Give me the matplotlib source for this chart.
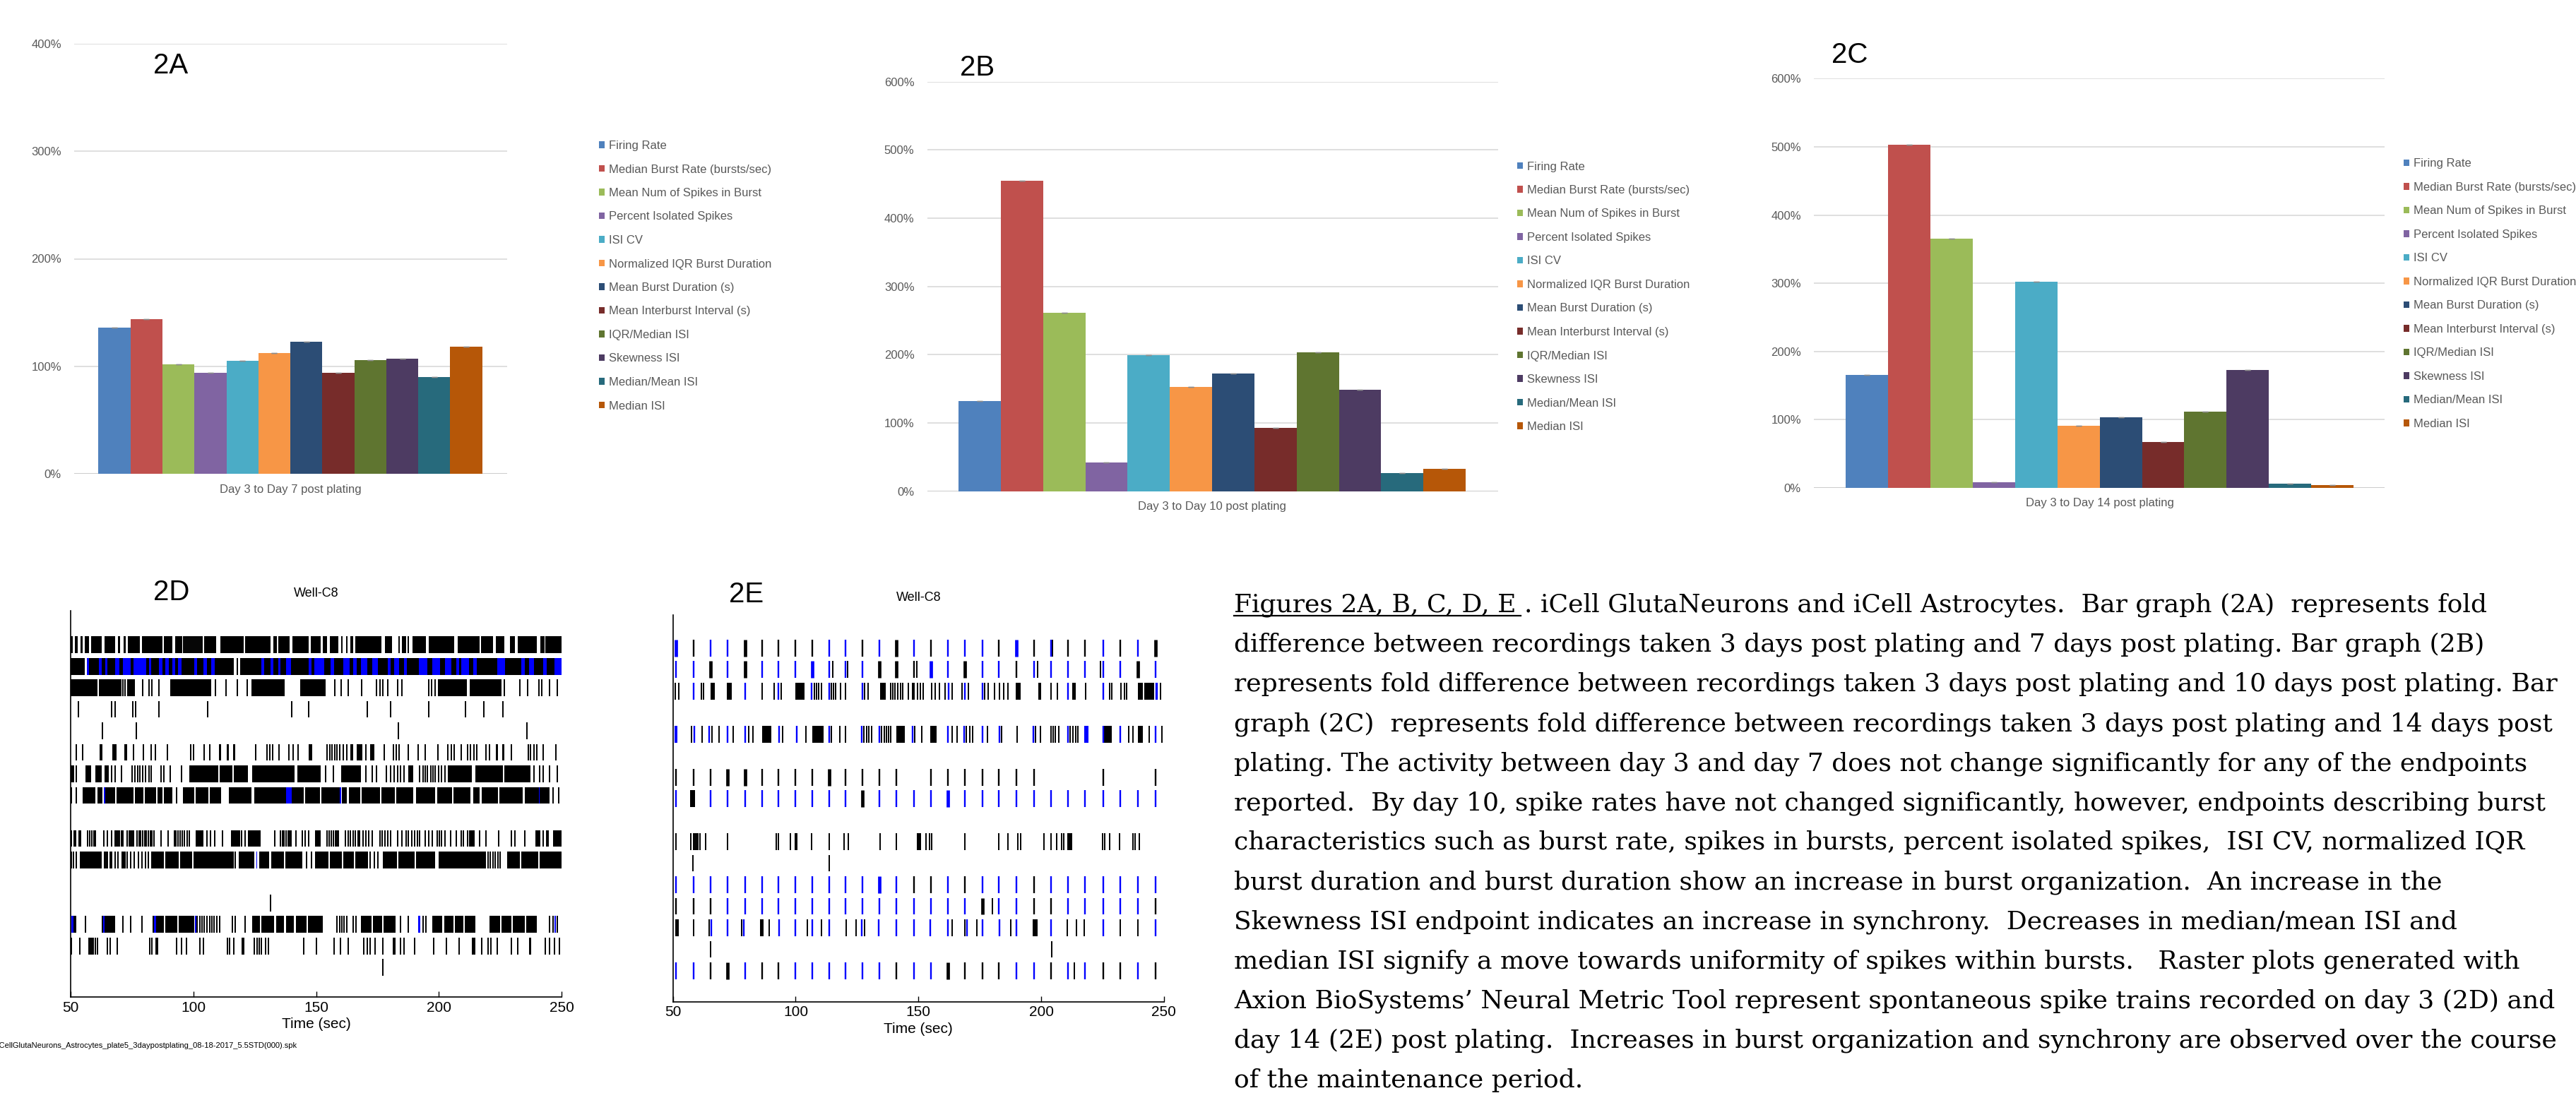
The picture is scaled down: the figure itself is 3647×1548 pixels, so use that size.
import numpy as np
import matplotlib
matplotlib.use('Agg')
import matplotlib.pyplot as plt
from matplotlib import font_manager
from matplotlib.patches import Patch
from matplotlib.lines import Line2D

# ---- bar chart data (fold change, %) ----
METRICS = ['Firing Rate', 'Median Burst Rate (bursts/sec)', 'Mean Num of Spikes in Burst',
           'Percent Isolated Spikes', 'ISI CV', 'Normalized IQR Burst Duration',
           'Mean Burst Duration (s)', 'Mean Interburst Interval (s)', 'IQR/Median ISI',
           'Skewness ISI', 'Median/Mean ISI', 'Median ISI']
COLORS = ['#4F81BD', '#C0504D', '#9BBB59', '#8064A2', '#4BACC6', '#F79646',
          '#2C4D75', '#772C2A', '#5F7530', '#4D3B62', '#276A7C', '#B65708']
A_VALUES = [136, 144, 102, 94, 105, 112, 123, 94, 106, 107, 90, 118]
B_VALUES = [132, 455, 262, 42, 199, 153, 173, 93, 204, 149, 27, 33]
C_VALUES = [166, 503, 365, 8, 302, 91, 103, 67, 112, 173, 6.5, 4]
A_LABEL = 'Day 3 to Day 7 post plating'
B_LABEL = 'Day 3 to Day 10 post plating'
C_LABEL = 'Day 3 to Day 14 post plating'

# ---- raster 2D (day 3): times in sec, keyed by channel row ----
D_BLACK_BLOCKS = {
    1: [(50.0, 51.0), (51.8, 53.0), (54.0, 55.0), (55.8, 57.6), (58.4, 62.8), (63.7, 68.0), (69.3, 70.0),
        (71.5, 72.5), (73.2, 78.3), (79.0, 87.4), (88.0, 91.3), (92.5, 95.4), (104.5, 109.4), (111.0, 120.4),
        (121.0, 131.4), (132.6, 134.0), (134.6, 139.1), (140.4, 146.9), (147.9, 152.0), (152.7, 154.6),
        (155.7, 159.2), (164.0, 165.0), (166.0, 176.6), (178.0, 181.0), (185.0, 186.6), (189.3, 194.8),
        (196.0, 206.4), (207.7, 216.7), (217.3, 222.0), (223.2, 226.8), (229.0, 231.0), (232.3, 240.0),
        (241.3, 243.0), (243.5, 250.0)],
    2: [(50.0, 55.8), (56.7, 116.6), (119.2, 250.0)],
    3: [(50.0, 60.8), (61.5, 70.6), (73.1, 76.1), (90.6, 107.4), (123.6, 137.2), (143.4, 154.0),
        (199.7, 211.4), (212.6, 225.5)],
    6: [(66.9, 68.6), (71.8, 72.9), (110.4, 111.4), (113.6, 114.5), (116.1, 117.1), (147.1, 148.4),
        (164.0, 165.0), (166.5, 168.9), (172.1, 173.8), (199.3, 199.9), (223.2, 224.2), (225.8, 226.8)],
    7: [(50.0, 51.4), (56.0, 58.3), (60.2, 62.8), (63.8, 65.4), (98.4, 110.0), (110.6, 116.0), (116.6, 122.3),
        (123.9, 141.1), (142.3, 152.0), (160.1, 168.2), (187.6, 189.6), (203.8, 213.5), (214.8, 226.0),
        (226.6, 237.4)],
    8: [(55.0, 60.2), (60.8, 63.0), (63.4, 68.2), (68.6, 75.7), (76.1, 79.6), (80.3, 84.8), (85.4, 87.4),
        (88.0, 91.3), (95.8, 100.5), (101.0, 106.2), (106.8, 111.3), (114.5, 123.6), (124.9, 137.8),
        (137.8, 145.0), (145.6, 151.5), (152.1, 159.8), (160.5, 162.4), (163.4, 168.0), (168.6, 176.0),
        (176.6, 182.0), (182.6, 189.6), (190.6, 198.6), (199.3, 205.5), (206.1, 212.9), (214.1, 216.7),
        (217.4, 224.0), (224.6, 234.2), (234.9, 245.2)],
    10: [(51.2, 52.2), (53.1, 54.4), (100.9, 104.2), (115.2, 119.1), (122.3, 127.5), (149.5, 152.0),
         (166.9, 168.0), (213.0, 214.5), (239.4, 241.3), (246.5, 250.0)],
    11: [(53.7, 62.8), (70.6, 72.5), (82.8, 88.0), (88.6, 94.0), (94.6, 99.5), (100.2, 116.5), (118.4, 124.9),
         (126.8, 131.0), (131.6, 137.0), (137.6, 144.3), (149.5, 155.0), (155.6, 160.5), (161.1, 165.5),
         (166.1, 171.2), (177.3, 183.0), (183.6, 190.0), (190.6, 198.6), (199.9, 219.3), (227.7, 233.0),
         (233.6, 240.5), (241.1, 250.0)],
    14: [(51.2, 52.4), (62.8, 68.0), (83.5, 88.0), (88.6, 93.5), (94.1, 100.5), (124.0, 127.0), (127.6, 133.0),
         (133.6, 137.0), (137.8, 141.0), (141.8, 146.0), (146.6, 152.7), (168.2, 172.5), (173.1, 177.0),
         (177.6, 182.5), (197.3, 201.5), (202.1, 206.0), (206.6, 210.0), (210.6, 214.8), (220.6, 225.0),
         (225.6, 229.5), (230.1, 235.0), (235.6, 240.0)],
    15: [(119.5, 120.7), (181.2, 182.5), (213.5, 214.8), (236.8, 237.7)],
}
D_BLACK_SPIKES = {
    1: [96.0, 96.6, 97.1, 97.7, 98.3, 98.8, 99.4, 100.0, 100.6, 101.2, 101.8, 102.4, 103.0, 103.6,
        160.6, 162.4, 183.8, 187.5],
    2: [117.9],
    3: [71.2, 72.2, 79.3, 81.9, 83.2, 86.1, 109.1, 113.2, 118.0, 122.0, 157.6, 160.1, 163.1, 168.6, 174.7,
        176.0, 177.3, 179.2, 183.1, 185.0, 195.8, 197.1, 198.4, 226.8, 232.9, 236.1, 240.7, 242.0, 245.2,
        248.4],
    4: [53.1, 66.7, 68.2, 75.3, 76.4, 86.1, 105.9, 140.0, 146.9, 170.8, 180.3, 196.0, 210.9, 218.4, 226.2],
    5: [63.0, 76.8, 183.5, 235.9],
    6: [52.2, 55.0, 62.1, 62.8, 75.7, 79.6, 82.8, 84.5, 89.3, 98.8, 100.0, 104.4, 106.8, 125.5, 130.1, 131.1,
        132.4, 135.0, 138.9, 140.7, 142.7, 154.6, 155.7, 156.6, 157.6, 158.5, 159.6, 161.1, 162.4, 170.2,
        177.9, 181.5, 182.8, 183.8, 187.6, 191.5, 194.5, 203.8, 205.1, 206.4, 209.0, 211.8, 212.9, 214.4,
        215.4, 219.3, 220.6, 229.7, 236.4, 237.4, 238.7, 240.0, 242.6, 247.8],
    7: [52.2, 66.7, 68.2, 70.6, 75.0, 76.1, 77.3, 78.3, 79.3, 80.6, 81.9, 82.8, 86.7, 88.0, 90.6, 95.1, 154.0,
        157.0, 170.2, 173.0, 174.7, 178.6, 180.5, 181.8, 183.1, 184.4, 185.7, 192.2, 193.5, 194.5, 195.4,
        196.7, 197.6, 198.6, 199.9, 201.2, 202.5, 238.7, 241.0, 242.6, 245.2, 248.4],
    8: [50.2, 52.2, 93.2, 246.5, 248.8],
    10: [50.4, 57.0, 57.9, 58.7, 59.6, 60.2, 63.4, 65.1, 66.7, 68.0, 68.6, 69.3, 69.9, 70.6, 71.2, 73.1,
         73.9, 74.4, 75.1, 75.7, 77.0, 77.8, 78.6, 79.3, 80.1, 80.9, 81.7, 82.5, 83.2, 84.1, 86.7, 89.7,
         92.3, 93.0, 93.6, 94.5, 95.5, 96.4, 97.5, 98.4, 105.5, 107.0, 108.7, 111.9, 119.7, 121.0, 133.3,
         135.5, 136.2, 137.0, 137.8, 138.5, 139.1, 139.8, 141.7, 144.3, 145.5, 146.9, 154.6, 155.4, 156.2,
         157.0, 157.8, 158.5, 159.2, 161.8, 163.1, 164.0, 165.0, 166.0, 169.0, 170.2, 171.5, 172.8, 176.0,
         177.0, 178.0, 179.2, 180.5, 183.1, 185.0, 186.7, 187.6, 188.9, 190.2, 191.2, 192.2, 194.5, 196.0,
         197.3, 199.3, 200.3, 201.2, 202.5, 204.8, 207.0, 209.0, 210.0, 211.6, 212.6, 216.7, 219.3, 224.5,
         229.7, 231.0, 234.9, 242.6, 243.9, 244.5],
    11: [50.4, 51.2, 52.2, 63.8, 64.3, 65.1, 66.0, 66.7, 68.0, 69.3, 73.1, 74.4, 76.0, 77.5, 79.0, 80.5,
         81.7, 117.0, 146.2, 148.2, 172.1, 173.8, 175.3, 220.0, 221.0, 222.0, 223.0, 224.0, 225.0],
    13: [131.4],
    14: [56.1, 71.2, 74.4, 79.0, 101.5, 102.6, 103.5, 104.5, 105.5, 106.6, 107.5, 108.5, 109.6, 110.6, 115.8,
         117.1, 121.0, 158.5, 159.6, 160.5, 161.4, 162.4, 165.0, 166.3, 184.4, 187.6, 193.5, 194.8, 245.2,
         246.5, 248.4],
    15: [50.4, 53.7, 57.4, 58.0, 58.7, 59.3, 60.0, 60.9, 65.1, 66.0, 69.0, 82.2, 83.2, 84.8, 85.4, 93.2, 95.1,
         97.1, 102.6, 104.2, 113.9, 114.8, 116.5, 124.9, 125.9, 126.8, 127.7, 129.4, 130.7, 144.9, 150.1,
         157.2, 159.8, 163.1, 169.5, 170.8, 172.1, 174.0, 177.3, 184.4, 185.7, 190.2, 198.0, 203.2, 208.3,
         217.4, 220.0, 221.3, 223.9, 229.7, 232.3, 243.3, 245.2, 247.1, 249.1],
    16: [177.3],
}
D_BLUE_BLOCKS = {
    2: [(56.6, 57.6), (61.5, 62.8), (64.1, 65.1), (68.0, 69.9), (71.2, 74.4), (75.7, 80.9), (81.9, 82.8),
        (86.1, 87.4), (88.7, 90.0), (91.3, 92.5), (93.8, 95.1), (100.3, 101.6), (104.2, 105.5), (107.4, 108.7),
        (127.7, 128.8), (131.4, 132.6), (134.6, 135.5), (137.8, 139.8), (146.9, 148.2), (149.2, 153.3),
        (155.9, 157.2), (161.1, 163.7), (165.0, 166.5), (168.2, 170.8), (172.8, 175.3), (179.2, 180.5),
        (181.8, 183.7), (185.7, 187.0), (191.9, 195.4), (197.3, 200.6), (202.5, 205.1), (207.0, 208.3),
        (209.0, 212.2), (214.1, 215.4), (223.9, 227.1), (233.6, 235.1), (236.8, 238.7), (242.6, 243.9),
        (247.1, 250.0)],
    8: [(63.4, 64.1), (137.8, 140.0), (159.6, 160.1), (240.7, 241.2)],
    11: [(125.6, 126.0)],
    14: [(50.2, 51.2), (63.2, 63.7), (84.0, 84.8), (100.7, 101.1), (191.5, 192.4), (247.2, 247.7)],
}

# ---- raster 2E (day 14) ----
E_BURST_TIMES = [51.2, 58.4, 65.2, 72.3, 79.3, 86.4, 92.9, 99.9, 106.7, 113.7, 120.4, 127.2, 134.1, 141.1,
                 148.2, 155.0, 161.9, 168.9, 176.0, 182.8, 189.9, 197.2, 204.1, 211.0, 217.9, 225.2, 232.1,
                 239.5, 246.6]
# b/k = blue/black spike at each network burst, upper case = wide, '.' = none
E_BURST_CODES = {
    1: 'BkbbKkkkkbbkbKbkbbbkBkbkkbkbK',
    2: 'bbKbKbbbBbbbKKkBbKbbkbbbbbbKb',
    7: 'kkkKKkkkkKkkkk.kkkkkkk...k..k',
    8: 'b.bbbbbbbbbKbbbbBbbbbbbbbbbbb',
    12: 'bbbbbbbbbbbbBbkkbkbbbkbbbbbbb',
    13: 'kkkbbbbbbbbbbbbbbbKbbkkbbbbbk',
    16: 'bbkKbkkbbbbbbkbbKkkkbbkbbkkbk',
}
E_BLACK_SPIKES = {
    1: [204.6],
    2: [115.0, 121.1, 149.3, 198.6, 224.3],
    3: [51.0, 52.3, 61.6, 62.5, 86.4, 91.1, 94.2, 107.5, 108.4, 109.5, 110.5, 114.6, 115.3, 116.2, 118.3,
        120.4, 128.2, 129.5, 138.6, 139.6, 140.5, 141.5, 142.6, 143.7, 145.9, 147.6, 148.3, 149.6, 150.8,
        151.9, 155.4, 156.7, 158.6, 161.0, 163.8, 167.9, 170.5, 177.0, 178.3, 180.9, 182.9, 184.7, 186.4,
        203.9, 206.5, 218.1, 227.8, 228.7, 232.4, 233.9, 234.9, 248.5],
    5: [57.7, 62.0, 65.9, 68.7, 74.5, 81.0, 82.5, 94.6, 104.3, 114.6, 117.9, 120.4, 127.8, 128.9, 129.9,
        130.8, 135.1, 136.0, 136.9, 137.9, 138.6, 148.5, 151.5, 163.8, 165.7, 169.6, 170.9, 172.2, 178.0,
        183.8, 190.3, 197.7, 199.8, 203.9, 204.9, 205.8, 207.1, 211.9, 212.9, 214.0, 214.9, 235.6, 237.5,
        244.0, 249.2],
    10: [51.2, 57.4, 58.4, 59.0, 59.6, 60.3, 60.9, 63.3, 72.2, 92.0, 92.9, 97.8, 106.6, 113.6, 119.8, 121.4,
         134.3, 141.1, 153.2, 154.5, 155.5, 169.0, 182.8, 186.4, 190.6, 191.6, 201.0, 203.9, 206.2, 208.2,
         209.1, 225.0, 225.9, 227.8, 232.0, 237.5, 238.2, 239.9],
    11: [58.1, 113.6],
    13: [180.0],
    14: [58.4, 64.8, 78.1, 89.1, 104.7, 110.4, 120.7, 124.6, 128.0, 163.8, 169.0, 173.9, 187.7, 210.7,
         214.5, 217.5, 232.1, 239.5],
    15: [65.2, 204.3],
    16: [213.6],
}
E_BLUE_SPIKES = {
    3: [58.4, 79.3, 92.9, 106.6, 113.7, 127.3, 162.2, 169.0, 176.1, 211.0, 225.2, 246.8, 247.3],
    5: [58.7, 64.8, 72.3, 79.3, 93.3, 100.4, 113.7, 126.9, 134.0, 147.6, 161.9, 168.7, 176.1, 182.9,
        196.8, 211.0, 225.2, 232.1, 246.6],
    14: [65.5, 72.3, 79.0, 93.3, 100.0, 106.9, 113.7, 126.9, 133.8, 140.9, 148.3, 154.7, 161.9, 169.9,
         176.1, 182.9, 189.9, 204.1, 225.2, 246.6],
}
E_BLACK_BLOCKS = {
    3: [(65.2, 67.1), (72.0, 73.9), (99.8, 103.6), (134.3, 136.6), (189.7, 191.6), (198.7, 200.0),
        (212.7, 214.2), (239.5, 241.4), (242.1, 246.0)],
    5: [(86.4, 90.0), (106.9, 111.4), (141.1, 144.4), (154.7, 157.3), (225.6, 228.7), (239.5, 241.4)],
    8: [(57.1, 59.0)],
    10: [(99.5, 100.8), (149.3, 151.1), (210.6, 212.6)],
    14: [(51.0, 52.3), (85.5, 86.8), (196.6, 198.6)],
}
E_BLUE_BLOCKS = {
    5: [(50.7, 51.7), (217.5, 219.4)],
}

FILE_NAME = 'iCellGlutaNeurons_Astrocytes_plate5_3daypostplating_08-18-2017_5.5STD(000).spk'

CAPTION_PREFIX = 'Figures 2A, B, C, D, E '
CAPTION_LINES = [
    'Figures 2A, B, C, D, E . iCell GlutaNeurons and iCell Astrocytes.  Bar graph (2A)  represents fold',
    'difference between recordings taken 3 days post plating and 7 days post plating. Bar graph (2B)',
    'represents fold difference between recordings taken 3 days post plating and 10 days post plating. Bar',
    'graph (2C)  represents fold difference between recordings taken 3 days post plating and 14 days post',
    'plating. The activity between day 3 and day 7 does not change significantly for any of the endpoints',
    'reported.  By day 10, spike rates have not changed significantly, however, endpoints describing burst',
    'characteristics such as burst rate, spikes in bursts, percent isolated spikes,  ISI CV, normalized IQR',
    'burst duration and burst duration show an increase in burst organization.  An increase in the',
    'Skewness ISI endpoint indicates an increase in synchrony.  Decreases in median/mean ISI and',
    'median ISI signify a move towards uniformity of spikes within bursts.   Raster plots generated with',
    'Axion BioSystems\u2019 Neural Metric Tool represent spontaneous spike trains recorded on day 3 (2D) and',
    'day 14 (2E) post plating.  Increases in burst organization and synchrony are observed over the course',
    'of the maintenance period.',
]

# ---- fonts ----
installed = {f.name for f in font_manager.fontManager.ttflist}
if 'Liberation Sans Narrow' in installed:
    NARROW, FS, LSPACE = 'Liberation Sans Narrow', 14.5, 0.83
else:
    NARROW, FS, LSPACE = 'Liberation Sans', 12, 1.11
SANS = 'Liberation Sans'
SERIF = 'DejaVu Serif'
GRAY = '#595959'

W, H, DPI = 3647, 1548, 100
fig = plt.figure(figsize=(W / DPI, H / DPI), dpi=DPI)
fig.patch.set_facecolor('white')


def px_rect(left, top, right, bottom):
    return [left / W, 1 - bottom / H, (right - left) / W, (bottom - top) / H]


def bar_panel(rect, values, ymax, cat_label, xlim, pad, leg_xy):
    ax = fig.add_axes(rect)
    x = np.arange(len(values))
    ax.bar(x, values, width=1.0, color=COLORS, zorder=3)
    ax.errorbar(x, values, yerr=0, fmt='none', ecolor='#8c8c8c', capsize=3, elinewidth=0.8, zorder=4)
    ax.set_xlim(*xlim)
    ax.set_ylim(0, ymax)
    ticks = list(range(0, ymax + 1, 100))
    ax.set_yticks(ticks)
    ax.set_yticklabels([f'{t}%' for t in ticks], family=NARROW, fontsize=FS, color=GRAY)
    ax.yaxis.grid(True, color='#d9d9d9', lw=1.2, zorder=0)
    ax.axhline(0, color='#c9c9c9', lw=1.2, zorder=2)
    ax.set_axisbelow(True)
    for s in ax.spines.values():
        s.set_visible(False)
    ax.tick_params(axis='y', length=0, pad=13)
    ax.set_xticks([(len(values) - 1) / 2])
    ax.set_xticklabels([cat_label], family=NARROW, fontsize=FS, color=GRAY)
    ax.tick_params(axis='x', length=0, pad=pad)
    handles = [Patch(facecolor=c, edgecolor='none') for c in COLORS]
    fig.legend(handles, METRICS, loc='upper left',
               bbox_to_anchor=(leg_xy[0] / W, 1 - (leg_xy[1] - 7.7) / H),
               frameon=False, prop={'family': NARROW, 'size': FS}, labelcolor=GRAY,
               handlelength=0.5, handleheight=0.5, handletextpad=0.35,
               labelspacing=LSPACE, borderaxespad=0, borderpad=0)
    return ax


bar_panel(px_rect(105, 62, 718, 671), A_VALUES, 400, A_LABEL, (-1.262, 12.28), 11, (848, 206.7))
bar_panel(px_rect(1312.5, 115.8, 2120.5, 695.8), B_VALUES, 600, B_LABEL, (-1.244, 12.26), 10, (2148, 236.2))
bar_panel(px_rect(2568, 111.3, 3376, 691), C_VALUES, 600, C_LABEL, (-1.25, 12.23), 10, (3403, 232))

for txt, (cx, cy) in [('2A', (242, 93)), ('2B', (1384, 96)), ('2C', (2619, 78)),
                      ('2D', (242.5, 839)), ('2E', (1057, 842))]:
    fig.text(cx / W, 1 - cy / H, txt, ha='center', va='center', family=SANS, fontsize=29)


def raster_panel(rect, ylim, black_blocks, black_spikes, blue_blocks, blue_spikes,
                 codes=None, title_y=0.0):
    ax = fig.add_axes(rect)
    h = 0.78
    for row, blocks in black_blocks.items():
        ax.broken_barh([(s, e - s) for s, e in blocks], (row - h / 2, h), facecolors='black',
                       edgecolor='none')
    for row, times in black_spikes.items():
        ax.vlines(times, row - h / 2, row + h / 2, colors='black', lw=1.4)
    if codes:
        for row, code in codes.items():
            for t, c in zip(E_BURST_TIMES, code):
                if c == '.':
                    continue
                col = 'blue' if c.lower() == 'b' else 'black'
                ax.vlines(t, row - h / 2, row + h / 2, colors=col, lw=3.4 if c.isupper() else 1.7)
    for row, times in blue_spikes.items():
        ax.vlines(times, row - h / 2, row + h / 2, colors='blue', lw=1.7)
    for row, blocks in blue_blocks.items():
        ax.broken_barh([(s, e - s) for s, e in blocks], (row - h / 2, h), facecolors='blue',
                       edgecolor='none')
    ax.set_xlim(50, 250)
    ax.set_ylim(*ylim)
    ax.spines['top'].set_visible(False)
    ax.spines['right'].set_visible(False)
    ax.spines['left'].set_linewidth(1.2)
    ax.spines['bottom'].set_linewidth(1.2)
    ax.set_yticks([])
    ax.set_xticks([50, 100, 150, 200, 250])
    ax.tick_params(axis='x', direction='in', length=6, width=1.0, pad=4, labelsize=15)
    for lab in ax.get_xticklabels():
        lab.set_family(SANS)
    ax.set_xlabel('Time (sec)', family=SANS, fontsize=15, labelpad=3)
    ax.text(0.5, 1 + title_y, 'Well-C8', transform=ax.transAxes, ha='center', va='center',
            family=SANS, fontsize=13)
    return ax


raster_panel(px_rect(100, 865, 795, 1412), (17.37, -0.58), D_BLACK_BLOCKS, D_BLACK_SPIKES,
             D_BLUE_BLOCKS, {}, title_y=24.4 / 547)
raster_panel(px_rect(952.7, 870.6, 1647.8, 1418.8), (17.44, -0.55), E_BLACK_BLOCKS, E_BLACK_SPIKES,
             E_BLUE_BLOCKS, E_BLUE_SPIKES, codes=E_BURST_CODES, title_y=24.3 / 548.2)

fig.text(420 / W, 1 - 1481 / H, FILE_NAME, ha='right', va='center', family=SANS, fontsize=8)

# ---- caption ----
cap_x = 1747
base0 = 866.8
pitch = 56.1
for i, line in enumerate(CAPTION_LINES):
    fig.text(cap_x / W, 1 - (base0 + i * pitch) / H, line, ha='left', va='baseline',
             family=SERIF, fontsize=26, color='black')

fig.canvas.draw()
renderer = fig.canvas.get_renderer()
probe = fig.text(cap_x / W, 1 - base0 / H, CAPTION_PREFIX.rstrip(), ha='left', va='baseline',
                 family=SERIF, fontsize=26)
bb = probe.get_window_extent(renderer)
probe.remove()
ul_y = 1 - (base0 + 5) / H
fig.add_artist(Line2D([cap_x / W, (bb.x1 + 6) / W], [ul_y, ul_y], color='black', lw=1.6))

fig.savefig('out.png', dpi=DPI)
